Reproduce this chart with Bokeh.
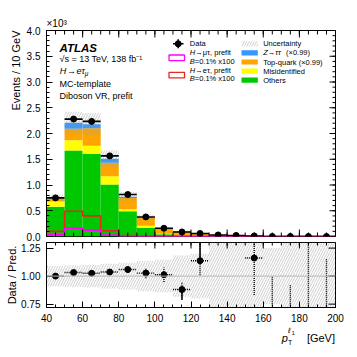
import numpy as np
from bokeh.plotting import figure
from bokeh.layouts import column
from bokeh.models import Range1d, LinearAxis, Label, FixedTicker, Span, Title
from bokeh.embed import file_html
from bokeh.resources import INLINE

# ---------------- data (values in units of 10^3 events) ----------------
bin_edges = [40, 50, 60, 70, 80, 90, 100, 110, 120, 130, 140, 150, 160, 170, 180, 190, 200]
others   = [0.58, 1.67, 1.60, 1.01, 0.49, 0.17, 0.045, 0.020, 0.010, 0.005, 0.004, 0.003, 0.002, 0.0015, 0.001, 0.001]
misid    = [0.10, 0.20, 0.16, 0.16, 0.04, 0.04, 0.010, 0.008, 0.005, 0.003, 0.002, 0.001, 0.001, 0.001, 0.001, 0.0005]
topquark = [0.06, 0.22, 0.34, 0.26, 0.22, 0.15, 0.100, 0.070, 0.035, 0.012, 0.008, 0.005, 0.004, 0.003, 0.002, 0.002]
ztautau  = [0.01, 0.12, 0.08, 0.08, 0.02, 0.01, 0.003, 0.002, 0.001, 0.001, 0.0005, 0.0003, 0.0002, 0.0002, 0.0001, 0.0001]
data     = [0.75, 2.28, 2.235, 1.565, 0.815, 0.38, 0.16, 0.088, 0.058, 0.030, 0.020, 0.0108, 0.0, 0.0, 0.0, 0.0]
unc_rel  = [0.09, 0.095, 0.10, 0.11, 0.12, 0.135, 0.145, 0.185, 0.20, 0.45, 0.45, 0.45, 0.25, 0.45, 0.45, 0.45]
h_etau   = [0.10, 0.49, 0.40, 0.11, 0.02, 0.01, 0.005, 0.003, 0.002, 0.001, 0.0, 0.0, 0.0, 0.0, 0.0, 0.0]
h_mutau  = [0.035, 0.16, 0.12, 0.03, 0.01, 0.005, 0.003, 0.002, 0.001, 0.0, 0.0, 0.0, 0.0, 0.0, 0.0, 0.0]
ratio_err_hi = [0.02, 0.02, 0.02, 0.02, 0.03, 0.045, 0.065, 0.07, 0.17, 0.10, 0.10, 0.25, 1.00, 0.92, 1.40, 1.15]
ratio_err_lo = [0.02, 0.02, 0.02, 0.02, 0.03, 0.045, 0.065, 0.09, 0.13, 0.10, 0.10, 0.33, 0.0, 0.0, 0.0, 0.0]
ratio_solid_hi = [0, 0, 0, 0, 0, 0, 0, 0, 0.17, 0, 0, 0, 0, 0, 0, 0]
ratio_solid_lo = [0, 0, 0, 0, 0, 0, 0, 0.09, 0, 0, 0, 0, 0, 0, 0, 0]
x_ticks = [40, 60, 80, 100, 120, 140, 160, 180, 200]
x_minor = list(range(40, 201, 5))
y_ticks = [0.0, 0.5, 1.0, 1.5, 2.0, 2.5, 3.0, 3.5, 4.0]
y_minor = [round(0.1 * i, 1) for i in range(0, 41)]
r_ticks = [0.75, 1.00, 1.25]

FONT = "Liberation Sans"
C_OTH, C_MIS, C_TOP, C_Z = "#00c800", "#ffff00", "#ffa500", "#3399ff"
C_ET, C_MT = "#e8281e", "#ff00ff"
HATCH = "#9a9a9a"

e = np.array(bin_edges, float)
lo, hi = e[:-1], e[1:]
cen = 0.5 * (lo + hi)
oth, mis, topq, zt = map(np.array, (others, misid, topquark, ztautau))
dat = np.array(data)
pred = oth + mis + topq + zt
unc = np.array(unc_rel)
ratio = dat / pred

# ---------------- geometry (page pixels) ----------------
W = 355
FW, FH, RH = 289, 206, 65
L, T = 46, 30          # top frame left / top on the page
R_ = W - L - FW        # right border
GAP_TOP = 6            # bottom border of the top panel
RT = T + FH + GAP_TOP  # ratio frame top on the page
RB = RT + RH           # ratio frame bottom on the page
RBOT = 20              # ratio bottom border (tick labels)
FTR_TOP, FTR_H = RB + RBOT, 26
X = lambda px: 40 + (px - L) * 160.0 / FW
Y = lambda py: (T + FH - py) * 4.0 / FH
dXpx = 160.0 / FW
dYpx = 4.0 / FH
dRpx = 0.58 / RH


def style_fig(fig, outline="black"):
    fig.outline_line_color = outline
    fig.background_fill_color = "white"
    fig.border_fill_color = "white"
    fig.grid.visible = False


def lab(fig, x, y, text, size="7.5px", style="normal", align="left", base="middle"):
    fig.add_layout(Label(x=x, y=y, text=text, text_font=FONT, text_font_size=size,
                         text_font_style=style, text_align=align, text_baseline=base,
                         text_color="black"))


def label_axis(fig, side, ticks, minor, tin, tmin, labels):
    ax = LinearAxis(ticker=FixedTicker(ticks=ticks, minor_ticks=minor),
                    major_tick_in=tin, major_tick_out=0, minor_tick_in=tmin, minor_tick_out=0,
                    axis_line_color="black", major_tick_line_color="black",
                    minor_tick_line_color="black", major_label_overrides=labels,
                    major_label_text_font=FONT, major_label_text_font_size="10px",
                    major_label_text_color="black", major_label_standoff=6)
    fig.add_layout(ax, side)


def mirror_ticks_x(fig, y_edge, sign, major_len, minor_len):
    fig.segment(x0=x_minor, x1=x_minor, y0=[y_edge] * len(x_minor),
                y1=[y_edge + sign * minor_len] * len(x_minor), line_color="black", line_width=1)
    fig.segment(x0=x_ticks, x1=x_ticks, y0=[y_edge] * len(x_ticks),
                y1=[y_edge + sign * major_len] * len(x_ticks), line_color="black", line_width=1)


def mirror_ticks_y(fig, yt, ym, major_len, minor_len):
    if ym:
        fig.segment(x0=[200] * len(ym), x1=[200 - minor_len] * len(ym), y0=ym, y1=ym,
                    line_color="black", line_width=1)
    fig.segment(x0=[200] * len(yt), x1=[200 - major_len] * len(yt), y0=yt, y1=yt,
                line_color="black", line_width=1)


def strip(top, height):
    # text strip whose frame is aligned with the plot frames; coordinates are page pixels
    s = figure(x_range=Range1d(L, L + FW), y_range=Range1d(top + height, top),
               frame_width=FW, frame_height=height,
               min_border_left=L, min_border_right=R_, min_border_top=0, min_border_bottom=0,
               x_axis_location=None, y_axis_location=None,
               output_backend="svg", toolbar_location=None)
    style_fig(s, outline=None)
    return s


# ---------------- top panel ----------------
p = figure(x_range=Range1d(40, 200), y_range=Range1d(0, 4.0),
           frame_width=FW, frame_height=FH,
           min_border_left=L, min_border_right=R_, min_border_top=T,
           min_border_bottom=GAP_TOP,
           x_axis_location=None, y_axis_location=None,
           output_backend="svg", toolbar_location=None)
style_fig(p)
label_axis(p, "left", y_ticks, y_minor, 6, 3, {v: f"{v:.1f}" for v in y_ticks})
p.add_layout(Title(text="Events / 10 GeV", align="right", text_font=FONT, text_font_size="11px",
                   text_font_style="normal", text_color="black", standoff=3, offset=0), "left")
p.add_layout(Title(text="×10³", align="left", text_font=FONT, text_font_size="10px",
                   text_font_style="normal", text_color="black", standoff=3, offset=0), "above")

b0 = np.zeros_like(oth)
for comp, col in ((oth, C_OTH), (mis, C_MIS), (topq, C_TOP), (zt, C_Z)):
    p.quad(left=lo, right=hi, bottom=b0, top=b0 + comp, fill_color=col, line_color=None)
    b0 = b0 + comp

p.quad(left=lo, right=hi, bottom=pred * (1 - unc), top=pred * (1 + unc),
       fill_alpha=0, line_color=None, hatch_pattern="/", hatch_color=HATCH,
       hatch_scale=5, hatch_weight=0.5)

for sig, col in ((h_etau, C_ET), (h_mutau, C_MT)):
    s = np.array(sig)
    p.step(x=e, y=np.append(s, s[-1]), mode="after", line_color=col, line_width=1.6)
    p.segment(x0=[e[0]], y0=[0], x1=[e[0]], y1=[s[0]], line_color=col, line_width=1.6)

stat = np.sqrt(dat * 1000.0) / 1000.0
p.segment(x0=lo, x1=hi, y0=dat, y1=dat, line_color="black", line_width=1.6)
p.segment(x0=cen, x1=cen, y0=dat - stat, y1=dat + stat, line_color="black", line_width=1.6)
p.scatter(x=cen, y=dat, size=6, marker="circle", fill_color="black", line_color="black")

mirror_ticks_x(p, 0.0, +1, 7 * dYpx, 4 * dYpx)
mirror_ticks_x(p, 4.0, -1, 7 * dYpx, 4 * dYpx)
mirror_ticks_y(p, y_ticks, y_minor, 6 * dXpx, 3 * dXpx)

# texts
lab(p, X(59), Y(47.5), "ATLAS", size="11.5px", style="bold italic", base="alphabetic")
lab(p, X(59), Y(58.5), "√s = 13 TeV, 138 fb⁻¹", size="9px", base="alphabetic")
lab(p, X(59.3), Y(70.5), "H", size="9px", style="italic", base="alphabetic")
lab(p, X(66.5), Y(70.5), "→", size="9px", base="alphabetic")
lab(p, X(76), Y(70.5), "eτ", size="9px", style="italic", base="alphabetic")
lab(p, X(84.2), Y(72.5), "μ", size="6.5px", style="italic", base="alphabetic")
lab(p, X(59), Y(83.3), "MC-template", size="9px", base="alphabetic")
lab(p, X(59), Y(95.3), "Diboson VR, prefit", size="9px", base="alphabetic")

# legend - left column
p.segment(x0=[X(172.5)], x1=[X(183)], y0=[Y(43.3)], y1=[Y(43.3)], line_color="black", line_width=1.6)
p.segment(x0=[X(177.7)], x1=[X(177.7)], y0=[Y(38.8)], y1=[Y(47.8)], line_color="black", line_width=1.6)
p.scatter(x=[X(177.7)], y=[Y(43.3)], size=6, marker="circle", fill_color="black", line_color="black")
lab(p, X(189.3), Y(43.3), "Data")
for ytop, col, sig in ((54.5, C_MT, "→μτ, prefit"), (71.8, C_ET, "→eτ, prefit")):
    p.quad(left=[X(168.5)], right=[X(184)], bottom=[Y(ytop + 5.6)], top=[Y(ytop)],
           fill_alpha=0, line_color=col, line_width=1.3)
    lab(p, X(189.3), Y(ytop - 2.2), "H", style="italic")
    lab(p, X(194.8), Y(ytop - 2.2), sig)
    lab(p, X(189.3), Y(ytop + 6.5), "B", style="italic")
    lab(p, X(194.3), Y(ytop + 6.5), "=0.1% x100")

# legend - right column
sw_l, sw_r = X(241), X(257.3)
ys = [43.3, 52.3, 61.5, 70.7, 79.7]
p.quad(left=[sw_l], right=[sw_r], bottom=[Y(ys[0] + 2.6)], top=[Y(ys[0] - 2.6)],
       fill_alpha=0, line_color=None, hatch_pattern="/", hatch_color=HATCH,
       hatch_scale=5, hatch_weight=0.5)
for yy, col in zip(ys[1:], (C_Z, C_TOP, C_MIS, C_OTH)):
    p.quad(left=[sw_l], right=[sw_r], bottom=[Y(yy + 2.6)], top=[Y(yy - 2.6)],
           fill_color=col, line_color=None)
tx = X(262.7)
lab(p, tx, Y(ys[0]), "Uncertainty")
lab(p, tx, Y(ys[1]), "Z→ττ", style="italic")
lab(p, X(285.5), Y(ys[1]), "(×0.99)")
lab(p, tx, Y(ys[2]), "Top-quark (×0.99)")
lab(p, tx, Y(ys[3]), "Misidentified")
lab(p, tx, Y(ys[4]), "Others")

# ---------------- ratio panel ----------------
r = figure(x_range=p.x_range, y_range=Range1d(0.72, 1.30),
           frame_width=FW, frame_height=RH,
           min_border_left=L, min_border_right=R_, min_border_top=0, min_border_bottom=RBOT,
           x_axis_location=None, y_axis_location=None,
           output_backend="svg", toolbar_location=None)
style_fig(r)
label_axis(r, "below", x_ticks, x_minor, 6, 3, {v: str(v) for v in x_ticks})
label_axis(r, "left", r_ticks, [], 7, 0, {0.75: "0.75", 1.0: "1.00", 1.25: "1.25"})
r.add_layout(Title(text="Data / Pred.", align="center", text_font=FONT, text_font_size="11px",
                   text_font_style="normal", text_color="black", standoff=1, offset=2), "left")

r.quad(left=lo, right=hi, bottom=1 - unc, top=1 + unc,
       fill_alpha=0, line_color=None, hatch_pattern="/", hatch_color=HATCH,
       hatch_scale=5, hatch_weight=0.5)
r.add_layout(Span(location=1.0, dimension="width", line_color="#b8b8b8", line_width=1))

rhi, rlo = np.array(ratio_err_hi), np.array(ratio_err_lo)
r.segment(x0=cen, x1=cen, y0=ratio - rlo, y1=ratio + rhi, line_color="black",
          line_width=1.4, line_dash="1 1")
r.segment(x0=lo, x1=hi, y0=ratio, y1=ratio, line_color="black", line_width=1.4, line_dash="1 1")
sh, sl = np.array(ratio_solid_hi), np.array(ratio_solid_lo)
r.segment(x0=cen, x1=cen, y0=ratio - sl, y1=ratio + sh, line_color="black", line_width=1.4)
r.scatter(x=cen, y=ratio, size=6, marker="circle", fill_color="black", line_color="black")

mirror_ticks_x(r, 1.30, -1, 6 * dRpx, 3 * dRpx)
mirror_ticks_y(r, r_ticks, [], 7 * dXpx, 0)

# ---------------- footer strip (x-axis title) ----------------
ftr = strip(FTR_TOP, FTR_H)
lab(ftr, 281.3, 337, "p", size="11px", style="italic", base="alphabetic")
lab(ftr, 287.5, 330, "ℓ", size="8px", style="italic", base="alphabetic")
lab(ftr, 291.3, 332, "1", size="5.5px", base="alphabetic")
lab(ftr, 287.5, 341.5, "T", size="7px", base="alphabetic")
lab(ftr, 334.5, 337.5, "[GeV]", size="11px", align="right", base="alphabetic")

layout = column(p, r, ftr, spacing=0)
open("out.html", "w").write(file_html(layout, INLINE))
